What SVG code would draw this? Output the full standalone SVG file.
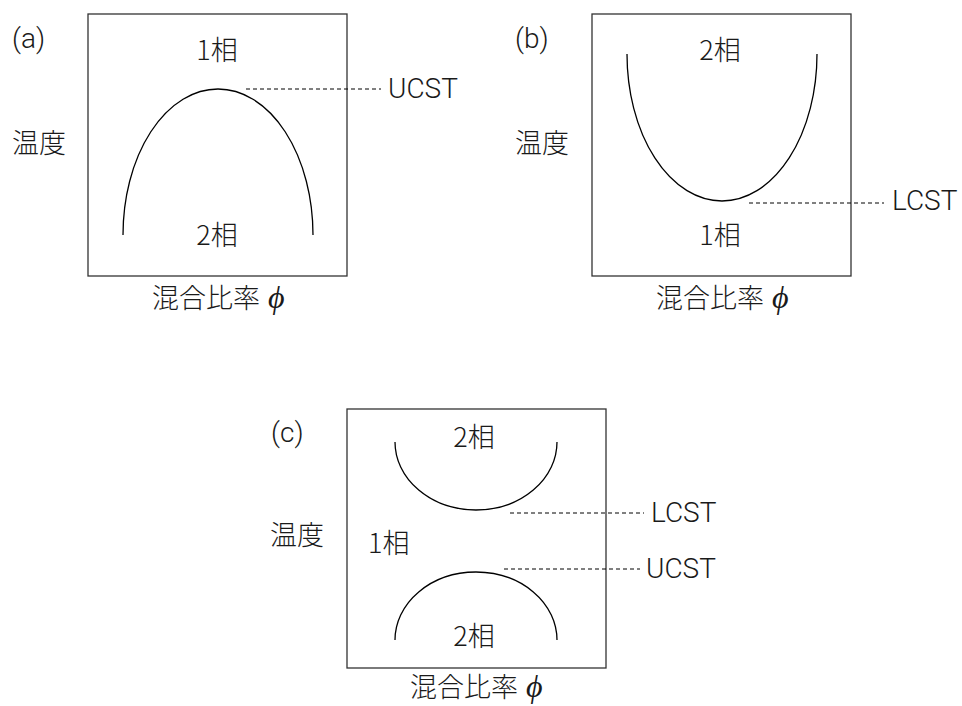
<svg xmlns="http://www.w3.org/2000/svg" width="962" height="706" viewBox="0 0 962 706">
<style>
text{font-family:"Noto Sans CJK JP","Noto Sans",sans-serif;font-size:27px;font-weight:300;fill:#1a1a1a}
.m{text-anchor:middle}
.lat{font-family:Roboto,"Liberation Sans",sans-serif;font-size:28px;font-weight:300}
.box{fill:none;stroke:#333;stroke-width:1.3}
.crv{fill:none;stroke:#000;stroke-width:1.3}
.dash{fill:none;stroke:#000;stroke-width:1;stroke-dasharray:4 3}
.phi{font-family:"Liberation Serif","DejaVu Serif",serif;font-style:italic;font-size:32px;font-weight:400}
</style>
<rect width="962" height="706" fill="#fff"/>
<g id="panel-a">
<text class="lat" x="12" y="48">(a)</text>
<rect class="box" x="88" y="14" width="259" height="262"/>
<text class="m" x="217" y="60">1相</text>
<text class="m" x="217" y="245">2相</text>
<text x="12" y="153">温度</text>
<text x="152" y="308">混合比率<tspan class="phi" dx="8">ϕ</tspan></text>
<path class="crv" d="M123 235 A95 146 0 0 1 313 235"/>
<text class="lat" x="388" y="98">UCST</text>
</g>
<g id="panel-b">
<text class="lat" x="515" y="48">(b)</text>
<rect class="box" x="592" y="14" width="259" height="262"/>
<text class="m" x="720" y="60">2相</text>
<text class="m" x="720" y="245">1相</text>
<text x="515" y="153">温度</text>
<text x="656" y="308">混合比率<tspan class="phi" dx="8">ϕ</tspan></text>
<path class="crv" d="M627 54 A95 147 0 0 0 817 54"/>
<text class="lat" x="892" y="210">LCST</text>
</g>
<g id="panel-c">
<text class="lat" x="271" y="442">(c)</text>
<rect class="box" x="347" y="409" width="259" height="259"/>
<text class="m" x="474" y="447">2相</text>
<text class="m" x="474" y="646">2相</text>
<text x="368" y="553">1相</text>
<text x="270" y="545">温度</text>
<text x="410" y="697">混合比率<tspan class="phi" dx="8">ϕ</tspan></text>
<path class="crv" d="M395 442 A81 68 0 0 0 557 442"/>
<path class="crv" d="M395 640 A81 68 0 0 1 557 640"/>
<text class="lat" x="651" y="522">LCST</text>
<text class="lat" x="646" y="578">UCST</text>
</g>
<g id="connectors">
<line class="dash" x1="246" y1="89" x2="381" y2="89"/>
<line class="dash" x1="749" y1="203" x2="884" y2="203"/>
<line class="dash" x1="510" y1="513" x2="644" y2="513"/>
<line class="dash" x1="504" y1="569" x2="640" y2="569"/>
</g>
</svg>
